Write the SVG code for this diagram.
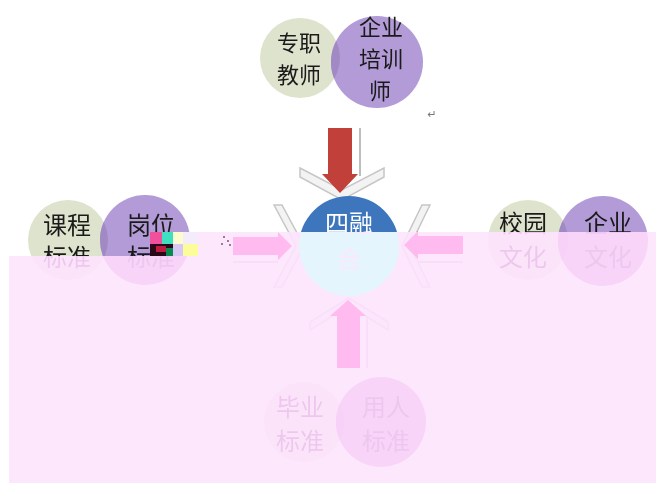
<svg xmlns="http://www.w3.org/2000/svg" width="656" height="486" viewBox="0 0 656 486">
<defs>
<style>
.t{font-family:'Noto Sans CJK SC','Liberation Sans',sans-serif;font-size:24px;fill:#1a1a1a;text-anchor:middle}
.ts{font-size:22px}
.tw{fill:#ffffff}
.g{fill:#dde3cc}
.p{fill:#b29bd6}
.po{fill:#a18ac3}
.b{fill:#3d76bd}
.chev{fill:#f3f3f3;stroke:#c6c6c6;stroke-width:1.5}
.shaft{fill:#c2403a}
.shaft2{fill:#be8282}
.edge{stroke:#bdbdbd;stroke-width:2;fill:none}
</style>
<clipPath id="cTop"><circle cx="300" cy="58" r="40"/></clipPath>
<clipPath id="cLeft"><circle cx="68" cy="240" r="40"/></clipPath>
<clipPath id="cRight"><circle cx="528" cy="240" r="40"/></clipPath>
<clipPath id="cBot"><circle cx="304" cy="422" r="40"/></clipPath>
<filter id="wash" x="0" y="0" width="656" height="486" filterUnits="userSpaceOnUse" primitiveUnits="userSpaceOnUse" color-interpolation-filters="sRGB">
<feColorMatrix in="SourceGraphic" type="matrix" values="0.211 -0.093 -0.048 0 0.922  -0.465 0.516 0.091 0 0.765  -0.076 0.075 0.072 0 0.922  0 0 0 1 0" result="w"/>
<feFlood flood-color="#ffffff" x="9" y="256" width="647" height="227" result="m1"/>
<feFlood flood-color="#ffffff" x="198" y="232" width="458" height="24" result="m2"/>
<feMerge result="m"><feMergeNode in="m1"/><feMergeNode in="m2"/></feMerge>
<feComposite in="w" in2="m" operator="in" result="wi"/>
<feComposite in="SourceGraphic" in2="m" operator="out" result="so"/>
<feMerge><feMergeNode in="so"/><feMergeNode in="wi"/></feMerge>
</filter>
</defs>
<g filter="url(#wash)">
<rect x="0" y="0" width="656" height="486" fill="#ffffff"/>

<g id="connectors">
<g id="arrow-top">
<polygon class="chev" points="300,168 342,190 384,168 384,177 342,200 300,177"/>
<line class="edge" x1="360" y1="128" x2="360" y2="176"/>
<polygon class="shaft" points="328,128 352,128 352,174 358,174 340,193 322,174 328,174"/>
</g>
<g id="arrow-left">
<polygon class="chev" points="274,205 296,246 274,287 282,287 304,246 282,205"/>
<line class="edge" x1="233" y1="262" x2="278" y2="262"/>
<polygon class="shaft2" points="233,237 278,237 278,232 292,246 278,260 278,255 233,255"/>
</g>
<g id="arrow-right">
<polygon class="chev" points="430,205 410,246 430,287 422,287 402,246 422,205"/>
<line class="edge" x1="418" y1="262" x2="463" y2="262"/>
<polygon class="shaft2" points="463,236 418,236 418,231 404,245 418,259 418,254 463,254"/>
</g>
<g id="arrow-bottom">
<polygon class="chev" points="310,330 349,306 388,330 388,322 349,298 310,322"/>
<line class="edge" x1="367" y1="316" x2="367" y2="368"/>
<polygon class="shaft2" points="337,368 360,368 360,316 366,316 348,300 330,316 337,316"/>
</g>
</g>

<g id="node-top">
<circle class="g" cx="300" cy="58" r="40"/>
<circle class="p" cx="377" cy="62" r="46"/>
<circle class="po" cx="377" cy="62" r="46" clip-path="url(#cTop)"/>
<text class="t ts" x="299" y="51"><tspan x="299" y="51">专职</tspan><tspan x="299" y="83">教师</tspan></text>
<text class="t ts" x="381" y="35"><tspan x="381" y="35">企业</tspan><tspan x="381" y="67">培训</tspan><tspan x="380" y="99">师</tspan></text>
<text x="432" y="118" font-family="'DejaVu Sans',sans-serif" font-size="11" fill="#777" text-anchor="middle">↵</text>
</g>

<g id="node-center">
<circle class="b" cx="349" cy="246" r="50"/>
<text class="t tw" x="349" y="232"><tspan x="349" y="232">四融</tspan><tspan x="349" y="268">合</tspan></text>
</g>

<g id="node-left">
<circle class="g" cx="68" cy="240" r="40"/>
<circle class="p" cx="145" cy="240" r="45"/>
<circle class="po" cx="145" cy="240" r="45" clip-path="url(#cLeft)"/>
<text class="t" x="67" y="234"><tspan x="67" y="234">课程</tspan><tspan x="67" y="266">标准</tspan></text>
<text class="t" x="151" y="234"><tspan x="151" y="234">岗位</tspan><tspan x="151" y="266">标准</tspan></text>
</g>

<g id="node-right">
<circle class="g" cx="528" cy="240" r="40"/>
<circle class="p" cx="603" cy="241" r="45"/>
<circle class="po" cx="603" cy="241" r="45" clip-path="url(#cRight)"/>
<text class="t" x="523" y="232"><tspan x="523" y="232">校园</tspan><tspan x="523" y="266">文化</tspan></text>
<text class="t" x="608" y="232"><tspan x="608" y="232">企业</tspan><tspan x="608" y="266">文化</tspan></text>
</g>

<g id="node-bottom">
<circle class="g" cx="304" cy="422" r="40"/>
<circle class="p" cx="381" cy="422" r="45"/>
<circle class="po" cx="381" cy="422" r="45" clip-path="url(#cBot)"/>
<text class="t" x="300" y="416"><tspan x="300" y="416">毕业</tspan><tspan x="300" y="450">标准</tspan></text>
<text class="t" x="386" y="416"><tspan x="386" y="416">用人</tspan><tspan x="386" y="450">标准</tspan></text>
</g>
</g>

<g id="artifacts">
<rect x="150" y="232" width="12" height="12" fill="#f0509c"/>
<rect x="162" y="232" width="11" height="12" fill="#3fe0c0"/>
<rect x="150" y="244" width="23" height="12" fill="#2a0a1a"/>
<rect x="156" y="246" width="10" height="6" fill="#c01a40"/>
<rect x="166" y="248" width="7" height="8" fill="#0a8a50"/>
<rect x="173" y="232" width="10" height="12" fill="#fdfccf"/>
<rect x="173" y="244" width="10" height="12" fill="#d8c8f4"/>
<rect x="183" y="244" width="15" height="12" fill="#fdfc9a"/>
<rect x="183" y="232" width="15" height="12" fill="#f4ecfa"/>
<circle cx="224" cy="237" r="1" fill="#8a5070"/>
<circle cx="228" cy="241" r="1" fill="#8a5070"/>
<circle cx="222" cy="244" r="1" fill="#8a5070"/>
<circle cx="230" cy="245" r="1" fill="#8a5070"/>
</g>
</svg>
